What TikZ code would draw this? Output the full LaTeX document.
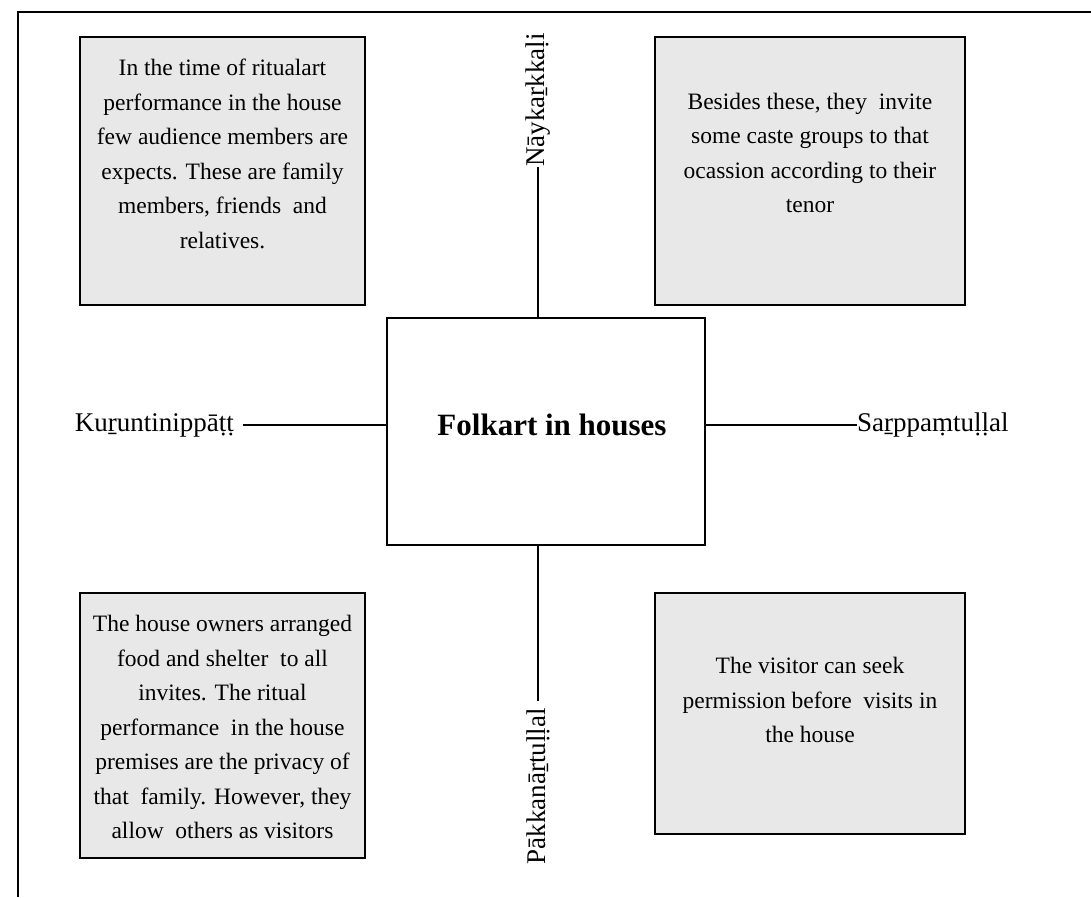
\documentclass[tikz,border=0pt]{standalone}
\usepackage{fontspec}
\setmainfont{Liberation Serif}
\definecolor{boxgrey}{HTML}{E8E8E8}
\begin{document}
\begin{tikzpicture}[x=1pt,y=-1pt,
  gbox/.style={draw=black,line width=1.8pt,fill=boxgrey,inner sep=0pt},
  cbox/.style={draw=black,line width=1.6pt,fill=white,inner sep=0pt},
  btext/.style={align=center,font=\fontsize{23.5}{34.5}\selectfont},
  lbl/.style={inner sep=0pt,font=\fontsize{27}{30}\selectfont},
  conn/.style={line width=1.3pt}]
\useasboundingbox (0,0) rectangle (1091,897);
\draw[line width=2.2pt] (18,897) -- (18,12) -- (1091,12);
% boxes
\node[gbox,minimum width=285,minimum height=268] (tl) at (222.5,171) {};
\node[gbox,minimum width=310,minimum height=268] (tr) at (810,171) {};
\node[gbox,minimum width=285,minimum height=265] (bl) at (222.5,725.5) {};
\node[gbox,minimum width=310,minimum height=241] (br) at (810,713.5) {};
\node[cbox,minimum width=318,minimum height=227] (c) at (546,431.5) {};
% texts
\node[btext] (tlt) at (222.5,154)
 {In the time of ritualart\\performance in the house\\few audience members are\\expects. These are family\\members, friends\ \ and\\relatives.};
\node[btext] (trt) at (810,153)
 {Besides these, they\ \ invite\\some caste groups to that\\ocassion according to their\\tenor};
\node[btext] (blt) at (222.5,727)
 {The house owners arranged\\food and shelter\ \ to all\\invites. The ritual\\performance\ \ in the house\\premises are the privacy of\\that\ \ family. However, they\\allow\ \ others as visitors};
\node[btext] (brt) at (810,700)
 {The visitor can seek\\permission before\ \ visits in\\the house};
\node[font=\fontsize{31}{34}\selectfont\bfseries] (ct) at (552,425) {Folkart in houses};
% labels
\node[lbl,rotate=90,anchor=west] (nk) at (538,167) {Nāykaṟkkaḷi};
\node[lbl,rotate=90,anchor=east] (pk) at (538,708) {Pākkanāṟtuḷḷal};
\node[lbl,anchor=east] (ku) at (234,425) {Kuṟuntinippāṭṭ};
\node[lbl,anchor=west] (sa) at (857,425) {Saṟppaṃtuḷḷal};
% connectors
\draw[conn] (nk.west) -- (nk.west |- c.north);
\draw[conn] ([yshift=7pt]pk.east) -- (pk.east |- c.south);
\draw[conn] ([xshift=9pt]ku.east) -- (ku.east -| c.west);
\draw[conn] (sa.west) -- (sa.west -| c.east);
\end{tikzpicture}
\end{document}
